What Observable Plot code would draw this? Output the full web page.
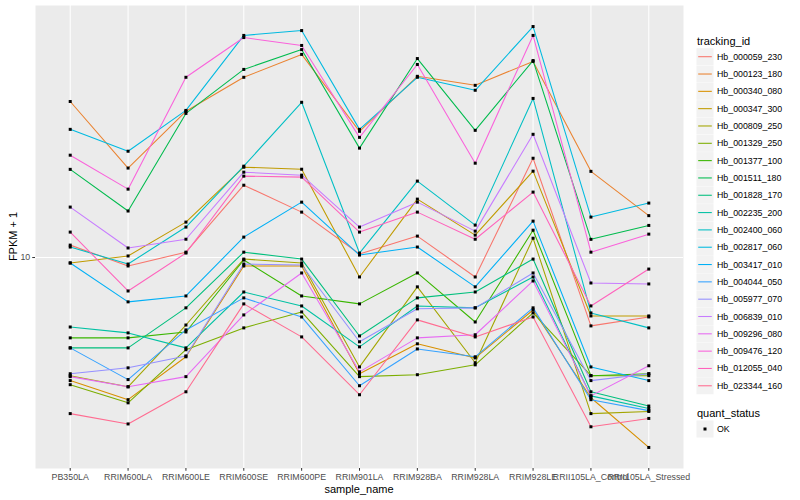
<!DOCTYPE html>
<html>
<head>
<meta charset="utf-8">
<script src="https://cdn.jsdelivr.net/npm/d3@7"></script>
<script src="https://cdn.jsdelivr.net/npm/@observablehq/plot@0.6"></script>
<style>
  html, body { margin: 0; padding: 0; background: #ffffff; }
  #chart svg { display: block; }
</style>
</head>
<body>
<div id="chart"></div>
<script>
const samples = ["PB350LA","RRIM600LA","RRIM600LE","RRIM600SE","RRIM600PE","RRIM901LA","RRIM928BA","RRIM928LA","RRIM928LE","RRII105LA_Control","RRII105LA_Stressed"];

const trackingIds = ["Hb_000059_230","Hb_000123_180","Hb_000340_080","Hb_000347_300","Hb_000809_250","Hb_001329_250","Hb_001377_100","Hb_001511_180","Hb_001828_170","Hb_002235_200","Hb_002400_060","Hb_002817_060","Hb_003417_010","Hb_004044_050","Hb_005977_070","Hb_006839_010","Hb_009296_080","Hb_009476_120","Hb_012055_040","Hb_023344_160"];

const hueColors = ["#F8766D","#EA8331","#D89000","#C09B00","#A3A500","#7CAE00","#39B600","#00BB4E","#00BF7D","#00C1A3","#00BFC4","#00BAE0","#00B0F6","#35A2FF","#9590FF","#C77CFF","#E76BF3","#FA62DB","#FF62BC","#FF6C91"];

// FPKM + 1 per sample (same order as samples)
const hb_000059_230 = [11.0, 9.37, 10.42, 17.44, 14.18, 10.27, 11.79, 8.61, 21.46, 5.91, 6.33];
const hb_000123_180 = [33.2, 19.9, 30.8, 40.0, 47.7, 26.4, 40.3, 37.6, 45.2, 19.4, 13.8];
const hb_000340_080 = [3.88, 3.35, 4.66, 9.37, 9.37, 4.09, 5.15, 4.62, 6.68, 3.40, 2.32];
const hb_000347_300 = [9.59, 10.12, 13.13, 20.03, 19.72, 8.61, 15.67, 11.88, 19.43, 6.38, 6.38];
const hb_000809_250 = [4.03, 3.70, 5.95, 9.88, 9.59, 4.31, 7.98, 4.45, 11.60, 3.01, 3.06];
const hb_001329_250 = [3.76, 3.27, 4.92, 5.82, 6.58, 4.00, 4.06, 4.38, 6.53, 4.03, 4.03];
const hb_001377_100 = [5.39, 5.39, 5.64, 9.81, 7.44, 7.00, 8.88, 6.09, 12.34, 4.03, 4.09];
const hb_001511_180 = [19.7, 14.3, 30.3, 42.5, 49.5, 23.2, 46.2, 26.6, 45.5, 11.5, 12.8];
const hb_001828_170 = [4.99, 4.99, 6.79, 10.42, 9.88, 5.47, 7.33, 7.67, 9.88, 3.56, 3.19];
const hb_002235_200 = [5.86, 5.60, 4.99, 7.67, 6.89, 5.03, 6.89, 6.79, 8.61, 3.45, 3.13];
const hb_002400_060 = [10.84, 9.51, 12.64, 20.19, 33.0, 10.35, 18.0, 12.83, 34.0, 6.53, 5.82];
const hb_002817_060 = [26.8, 22.65, 31.0, 55.2, 57.3, 26.8, 40.0, 36.2, 59.1, 13.65, 15.2];
const hb_003417_010 = [9.59, 7.11, 7.44, 11.70, 15.31, 10.19, 10.84, 7.98, 13.23, 4.31, 3.88];
const hb_004044_050 = [4.99, 3.91, 5.73, 7.33, 6.33, 3.73, 4.95, 4.66, 6.79, 3.35, 3.08];
const hb_005977_070 = [4.09, 4.28, 4.69, 9.51, 9.44, 5.23, 6.74, 6.79, 8.88, 3.88, 4.09];
const hb_006839_010 = [14.74, 10.76, 11.51, 19.28, 18.84, 12.64, 15.31, 12.25, 25.8, 8.22, 8.16];
const hb_009296_080 = [4.00, 3.70, 4.00, 6.43, 8.88, 4.15, 5.39, 5.52, 8.35, 3.45, 4.35];
const hb_009476_120 = [21.97, 16.92, 40.0, 54.3, 51.1, 25.2, 44.15, 20.66, 55.2, 10.42, 11.97];
const hb_012055_040 = [12.16, 7.73, 10.35, 18.70, 18.56, 12.16, 14.18, 11.51, 16.54, 6.89, 9.15];
const hb_023344_160 = [3.01, 2.78, 3.56, 7.00, 5.43, 3.48, 6.19, 5.43, 6.33, 2.72, 2.90];

const seriesValues = [hb_000059_230, hb_000123_180, hb_000340_080, hb_000347_300, hb_000809_250, hb_001329_250, hb_001377_100, hb_001511_180, hb_001828_170, hb_002235_200, hb_002400_060, hb_002817_060, hb_003417_010, hb_004044_050, hb_005977_070, hb_006839_010, hb_009296_080, hb_009476_120, hb_012055_040, hb_023344_160];

const yTicks = [10];
const quantStatus = ["OK"];

const rows = [];
seriesValues.forEach((vals, i) => {
  vals.forEach((v, j) => rows.push({id: trackingIds[i], sample: samples[j], value: v, status: "OK"}));
});

// ggplot-like 5% expansion on log scale
const lmin = Math.log10(d3.min(rows, d => d.value));
const lmax = Math.log10(d3.max(rows, d => d.value));
const lpad = (lmax - lmin) * 0.05;
const yDomain = [10 ** (lmin - lpad), 10 ** (lmax + lpad)];

const FONT = "'Liberation Sans', Arial, Helvetica, sans-serif";

const chart = Plot.plot({
  width: 800,
  height: 500,
  marginLeft: 35,
  marginRight: 117,
  marginTop: 5,
  marginBottom: 32,
  style: {fontFamily: FONT, fontSize: "8.8px", background: "#ffffff", color: "#4D4D4D"},
  x: {type: "point", domain: samples, padding: 0.6, round: false, label: null},
  y: {type: "log", domain: yDomain, label: null},
  color: {domain: trackingIds, range: hueColors},
  marks: [
    Plot.frame({fill: "#EBEBEB", stroke: "none"}),
    Plot.gridX({stroke: "#ffffff", strokeOpacity: 1, strokeWidth: 1.07}),
    Plot.gridY(yTicks, {stroke: "#ffffff", strokeOpacity: 1, strokeWidth: 1.07}),
    Plot.axisX({tickSize: 2.75, tickPadding: 2.5, fontSize: 8.8, color: "#4D4D4D", label: null}),
    Plot.axisY({ticks: yTicks, tickFormat: d => String(d), tickSize: 2.75, tickPadding: 2.5, fontSize: 8.8, color: "#4D4D4D", label: null}),
    Plot.line(rows, {x: "sample", y: "value", z: "id", stroke: "id", strokeWidth: 1.07, curve: "linear"}),
    Plot.dot(rows, {x: "sample", y: "value", symbol: "square", r: 1.7, fill: "#000000", stroke: "none"})
  ]
});

document.getElementById("chart").appendChild(chart);

const svg = d3.select(chart);
svg.selectAll("[aria-label='x-axis tick'] path, [aria-label='y-axis tick'] path").attr("stroke", "#333333");

// axis titles
svg.append("text")
  .attr("x", 359).attr("y", 489)
  .attr("text-anchor", "middle").attr("dominant-baseline", "central")
  .attr("font-family", FONT).attr("font-size", 11).attr("fill", "#000")
  .text("sample_name");
svg.append("text")
  .attr("transform", "translate(13,236.5) rotate(-90)")
  .attr("text-anchor", "middle").attr("dominant-baseline", "central")
  .attr("font-family", FONT).attr("font-size", 11).attr("fill", "#000")
  .text("FPKM + 1");

// legend: tracking_id
const leg = svg.append("g").attr("font-family", FONT).attr("text-anchor", "start");
leg.append("text").attr("x", 697).attr("y", 40.5).attr("text-anchor", "start")
  .attr("dominant-baseline", "central").attr("font-size", 11).attr("fill", "#000")
  .text("tracking_id");
trackingIds.forEach((id, i) => {
  const cy = 56.7 + i * 17.32;
  leg.append("rect").attr("x", 696.5).attr("y", cy - 8.5).attr("width", 17).attr("height", 17).attr("fill", "#F2F2F2");
  leg.append("line").attr("x1", 698.2).attr("x2", 711.8).attr("y1", cy).attr("y2", cy)
    .attr("stroke", hueColors[i]).attr("stroke-width", 1.07);
  leg.append("text").attr("x", 717).attr("y", cy).attr("text-anchor", "start")
    .attr("dominant-baseline", "central").attr("font-size", 8.8).attr("fill", "#000")
    .text(id);
});

// legend: quant_status
leg.append("text").attr("x", 697).attr("y", 412.5).attr("text-anchor", "start")
  .attr("dominant-baseline", "central").attr("font-size", 11).attr("fill", "#000")
  .text("quant_status");
quantStatus.forEach((s, i) => {
  const cy = 429 + i * 17.32;
  leg.append("rect").attr("x", 696.5).attr("y", cy - 8.5).attr("width", 17).attr("height", 17).attr("fill", "#F2F2F2");
  leg.append("rect").attr("x", 703.5).attr("y", cy - 1.5).attr("width", 3).attr("height", 3).attr("fill", "#000");
  leg.append("text").attr("x", 717).attr("y", cy).attr("text-anchor", "start")
    .attr("dominant-baseline", "central").attr("font-size", 8.8).attr("fill", "#000")
    .text(s);
});
</script>
</body>
</html>
